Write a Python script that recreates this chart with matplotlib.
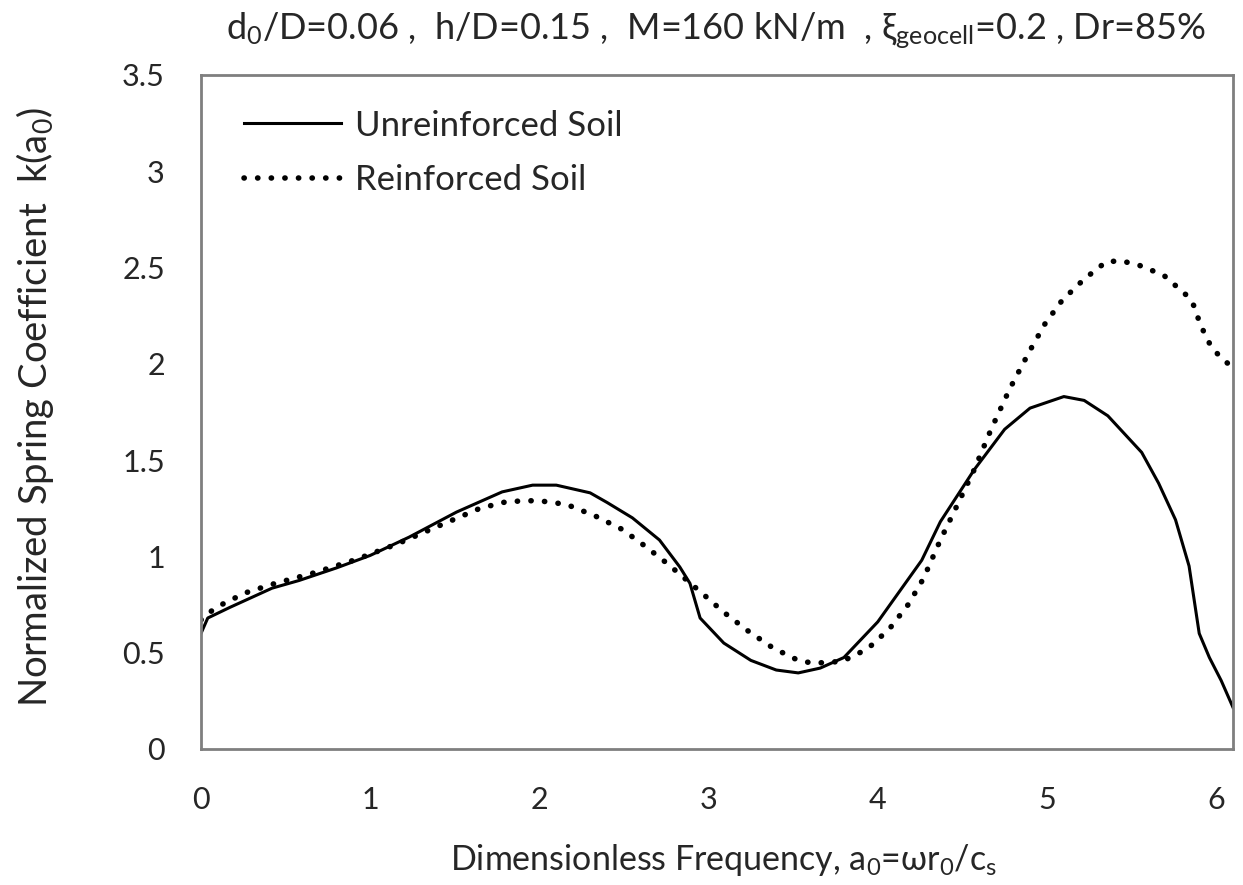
import numpy as np
import matplotlib.pyplot as plt

plt.rcParams['font.family'] = ['Lato', 'DejaVu Sans']
plt.rcParams['mathtext.default'] = 'regular'

# Unreinforced soil (solid)
a0_unr = [0.0, 0.04, 0.17, 0.42, 0.58, 0.80, 1.0, 1.23, 1.51, 1.78, 1.96, 2.10, 2.30, 2.40,
          2.55, 2.71, 2.83, 2.89, 2.95, 3.09, 3.25, 3.40, 3.53, 3.66, 3.80, 4.0, 4.26,
          4.37, 4.57, 4.75, 4.90, 5.10, 5.22, 5.36, 5.56, 5.66, 5.76, 5.84, 5.90, 5.96,
          6.03, 6.1]
k_unr = [0.60, 0.68, 0.735, 0.835, 0.875, 0.94, 1.005, 1.10, 1.23, 1.335, 1.37, 1.37, 1.33, 1.28,
         1.20, 1.085, 0.945, 0.86, 0.68, 0.55, 0.46, 0.41, 0.395, 0.42, 0.475, 0.66, 0.98,
         1.18, 1.45, 1.66, 1.77, 1.83, 1.81, 1.73, 1.54, 1.38, 1.19, 0.95, 0.60, 0.475,
         0.355, 0.215]

# Reinforced soil (dotted)
a0_rei = [0.0, 0.02, 0.10, 0.26, 0.42, 0.67, 0.92, 1.16, 1.41, 1.65, 1.81, 1.99, 2.16, 2.33,
          2.49, 2.63, 2.76, 2.96, 3.09, 3.23, 3.38, 3.53, 3.62, 3.79, 3.94, 4.07, 4.18,
          4.27, 4.37, 4.45, 4.57, 4.67, 4.78, 4.90, 4.99, 5.09, 5.22, 5.35, 5.44, 5.55,
          5.69, 5.82, 5.87, 5.90, 5.93, 5.97, 6.03, 6.1]
k_rei = [0.67, 0.69, 0.74, 0.81, 0.855, 0.915, 0.985, 1.065, 1.16, 1.25, 1.285, 1.29, 1.27, 1.21,
         1.14, 1.05, 0.96, 0.81, 0.71, 0.615, 0.525, 0.46, 0.445, 0.455, 0.52, 0.625, 0.75,
         0.885, 1.085, 1.23, 1.45, 1.66, 1.87, 2.07, 2.21, 2.33, 2.44, 2.53, 2.535, 2.51,
         2.46, 2.36, 2.30, 2.22, 2.16, 2.09, 2.03, 1.98]

fig = plt.figure(figsize=(12.43, 8.85), dpi=100)
ax = fig.add_axes([0.1617, 0.1537, 0.8303, 0.7616])

ax.plot(a0_unr, k_unr, color='black', linewidth=2.2, label='Unreinforced Soil')
ax.plot(a0_rei, k_rei, color='black', linewidth=4, linestyle=(0, (0.05, 2.4)),
        dash_capstyle='round', label='Reinforced Soil')

ax.set_xlim(0, 6.1)
ax.set_ylim(0, 3.5)
ax.set_xticks(range(7))
ax.set_yticks([0, 0.5, 1, 1.5, 2, 2.5, 3, 3.5])
ax.set_yticklabels(['0', '0.5', '1', '1.5', '2', '2.5', '3', '3.5'])
ax.tick_params(length=0, labelsize=22, colors='#262626')
ax.tick_params(axis='x', pad=27)
ax.tick_params(axis='y', pad=26)
for s in ax.spines.values():
    s.set_color('#7f7f7f')
    s.set_linewidth(2)

fig.text(0.582, 0.028, r'Dimensionless Frequency, a$_0$=ωr$_0$/c$_s$',
         ha='center', va='center', fontsize=24.5, color='#262626')
fig.text(0.028, 0.54, r'Normalized Spring Coefficient  k(a$_0$)', rotation=90,
         ha='center', va='center', fontsize=27.5, color='#262626')
fig.text(0.576, 0.965, r'd$_0$/D=0.06 ,  h/D=0.15 ,  M=160 kN/m  , ξ$_{geocell}$=0.2 , Dr=85%',
         ha='center', va='center', fontsize=26, color='#262626')

leg = ax.legend(loc='upper left', frameon=False, fontsize=25, handlelength=2.8,
                bbox_to_anchor=(0.011, 0.995), labelspacing=0.65, handletextpad=0.4)
for t in leg.get_texts():
    t.set_color('#262626')

plt.savefig('out.png', dpi=100)
